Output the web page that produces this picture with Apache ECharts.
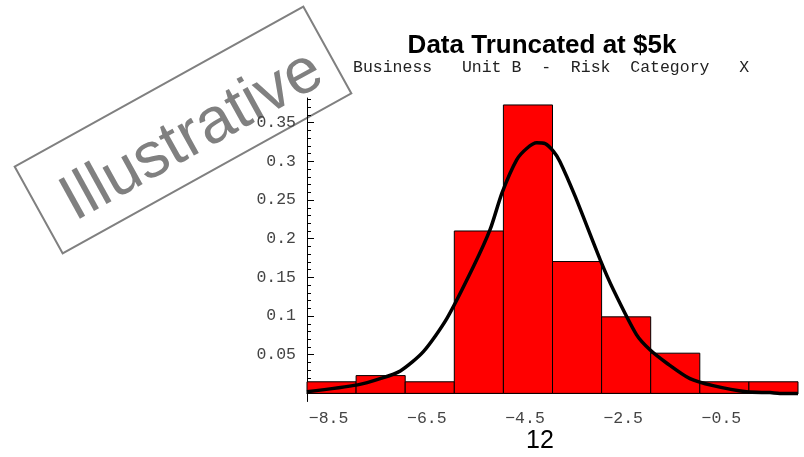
<!DOCTYPE html>
<html>
<head>
<meta charset="utf-8">
<script src="https://cdn.jsdelivr.net/npm/echarts@6/dist/echarts.min.js"></script>
<style>
  html, body { margin: 0; padding: 0; background: #fff; }
  #main { width: 804px; height: 457px; }
</style>
</head>
<body>
<div id="main"></div>
<script>
// histogram bins (width 1) and their heights
var binLow  = [-8.94, -7.94, -6.94, -5.94, -4.94, -3.94, -2.94, -1.94, -0.94, 0.06];
var binHigh = [-7.94, -6.94, -5.94, -4.94, -3.94, -2.94, -1.94, -0.94, 0.06, 1.06];
var binHeight = [0.015, 0.023, 0.015, 0.21, 0.373, 0.1705, 0.099, 0.052, 0.015, 0.015];

// fitted density curve
var curveX = [-8.94, -7.91, -7.45, -7.04, -6.57, -6.09, -5.55, -5.21, -4.97, -4.67, -4.46, -4.26,
              -4.09, -3.92, -3.79, -3.48, -2.97, -2.70, -2.23, -1.95, -1.61, -1.14, -0.67, 0.01, 0.49, 0.69, 1.06];
var curveY = [0.002, 0.011, 0.019, 0.029, 0.054, 0.097, 0.164, 0.212, 0.259, 0.302, 0.317, 0.324,
              0.323, 0.313, 0.300, 0.255, 0.173, 0.134, 0.076, 0.056, 0.039, 0.019, 0.010, 0.002, 0.001, 0.000, 0.000];

// tick labels
var xLabels = [-8.5, -6.5, -4.5, -2.5, -0.5];
var yLabels = [0.05, 0.1, 0.15, 0.2, 0.25, 0.3, 0.35];
var yMinor = [0.01, 0.02, 0.03, 0.04, 0.05, 0.06, 0.07, 0.08, 0.09, 0.1, 0.11, 0.12, 0.13, 0.14, 0.15,
              0.16, 0.17, 0.18, 0.19, 0.2, 0.21, 0.22, 0.23, 0.24, 0.25, 0.26, 0.27, 0.28, 0.29, 0.3,
              0.31, 0.32, 0.33, 0.34, 0.35, 0.36, 0.37, 0.38];

var titleText = 'Data Truncated at $5k';
var subText = 'Business   Unit B  -  Risk  Category   X';
var xName = '12';
var stampText = 'Illustrative';

var barData = [];
binLow.forEach(function (lo, i) {
    barData.push([lo, binHigh[i], binHeight[i]]);
});
var lineData = [];
curveX.forEach(function (x, i) {
    lineData.push([x, curveY[i]]);
});

var monoFont = '"Liberation Mono", "Courier New", monospace';
var sansFont = '"Liberation Sans", Arial, sans-serif';

var chart = echarts.init(document.getElementById('main'));

var option = {
    animation: false,
    backgroundColor: '#fff',
    grid: { left: 307, right: 6, top: 98, bottom: 55.5 },
    xAxis: {
        type: 'value',
        min: -8.94,
        max: 1.06,
        splitLine: { show: false },
        axisLine: { onZero: true, lineStyle: { color: '#000', width: 1 } },
        axisTick: { show: true, inside: true, length: 5, customValues: xLabels, lineStyle: { color: '#000' } },
        axisLabel: {
            customValues: xLabels,
            margin: 9,
            color: '#444',
            fontFamily: monoFont,
            fontSize: 16.5,
            formatter: function (v) { return String(v).replace('-', '\u2212'); }
        }
    },
    yAxis: [{
        type: 'value',
        position: 'left',
        min: -0.0105,
        max: 0.382,
        splitLine: { show: false },
        axisLine: { onZero: false, lineStyle: { color: '#000', width: 1 } },
        axisTick: { show: true, inside: true, length: 4, customValues: yMinor, lineStyle: { color: '#000' } },
        axisLabel: {
            customValues: yLabels,
            margin: 11,
            color: '#444',
            fontFamily: monoFont,
            fontSize: 16.5
        }
    }, {
        // major ticks, a bit longer
        type: 'value',
        position: 'left',
        min: -0.0105,
        max: 0.382,
        splitLine: { show: false },
        axisLine: { show: false, onZero: false },
        axisTick: { show: true, inside: true, length: 7, customValues: yLabels, lineStyle: { color: '#000' } },
        axisLabel: { show: false }
    }],
    series: [{
        type: 'custom',
        data: barData,
        encode: { x: [0, 1], y: 2 },
        z: 2,
        renderItem: function (params, api) {
            var p0 = api.coord([api.value(0), api.value(2)]);
            var p1 = api.coord([api.value(1), 0]);
            return {
                type: 'rect',
                shape: { x: p0[0], y: p0[1], width: p1[0] - p0[0], height: p1[1] - p0[1] },
                style: { fill: '#ff0000', stroke: '#000', lineWidth: 1 }
            };
        }
    }, {
        type: 'line',
        data: lineData,
        smooth: 0.25,
        showSymbol: false,
        z: 3,
        lineStyle: { color: '#000', width: 3.5 }
    }],
    graphic: [{
        type: 'text',
        x: 542,
        y: 46,
        style: {
            text: titleText,
            font: 'bold 26px ' + sansFont,
            fill: '#000',
            textAlign: 'center',
            textVerticalAlign: 'middle'
        }
    }, {
        type: 'text',
        x: 353,
        y: 68,
        style: {
            text: subText,
            font: '16.5px ' + monoFont,
            fill: '#222',
            textAlign: 'left',
            textVerticalAlign: 'middle'
        }
    }, {
        type: 'text',
        x: 540,
        y: 441,
        style: {
            text: xName,
            font: '25px ' + sansFont,
            fill: '#000',
            textAlign: 'center',
            textVerticalAlign: 'middle'
        }
    }, {
        // "Illustrative" stamp
        type: 'group',
        x: 183,
        y: 130,
        rotation: 0.506,
        z: 100,
        children: [{
            type: 'rect',
            shape: { x: -165, y: -49.5, width: 330, height: 99 },
            style: { fill: 'none', stroke: '#808080', lineWidth: 2 }
        }, {
            type: 'text',
            x: 5,
            y: 10,
            style: {
                text: stampText,
                font: '64px ' + sansFont,
                fill: '#808080',
                textAlign: 'center',
                textVerticalAlign: 'middle'
            }
        }]
    }]
};

chart.setOption(option);
</script>
</body>
</html>
